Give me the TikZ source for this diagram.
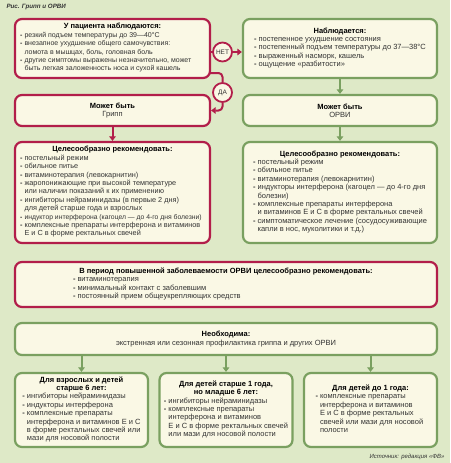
\documentclass[tikz,border=0pt]{standalone}
\usepackage{fontspec}
\setmainfont{Liberation Sans}
\usetikzlibrary{positioning,arrows.meta}
\definecolor{meadow}{RGB}{222,233,199}
\definecolor{cream}{RGB}{250,248,229}
\definecolor{crimson}{RGB}{178,30,74}
\definecolor{leaf}{RGB}{122,160,96}
\colorlet{ink}{black!80}

\newcommand{\hd}[1]{{\fontsize{7.5}{8.4}\selectfont\bfseries\color{black}#1}}
\newcommand{\itm}{\makebox[4.5pt][l]{\textbf{-}}}
\newcommand{\cnt}{\hspace*{4.5pt}}
\newcommand{\blk}[1]{\begin{tabular}[t]{@{}l@{}}#1\end{tabular}}
\newcommand{\blkw}[2]{\begin{tabular}[t]{@{}p{#1}@{}}#2\end{tabular}}

\tikzset{
  panel/.style={rounded corners=7pt, line width=2.2pt, fill=cream, align=center,
    inner sep=0pt, text=ink, font=\fontsize{7.5}{8.4}\selectfont},
  narrow/.style={font=\fontsize{7}{8.4}\selectfont},
  redpanel/.style={panel, draw=crimson},
  greenpanel/.style={panel, draw=leaf},
  choice/.style={circle, draw=crimson, line width=1.8pt, fill=cream, minimum size=19pt,
    inner sep=0pt, text=ink, font=\fontsize{6.5}{7}\selectfont},
  redlink/.style={crimson, line width=2pt},
  redarrow/.style={redlink, -{Triangle[length=4.5pt,width=6.5pt]}},
  greenarrow/.style={leaf, line width=2pt, -{Triangle[length=4.5pt,width=6.5pt]}}
}

\begin{document}
\begin{tikzpicture}[x=1pt, y=-1pt]
\fill[meadow] (0,0) rectangle (450,463);
\useasboundingbox (0,0) rectangle (450,463);

\node[anchor=west, font=\fontsize{6.2}{7}\selectfont\bfseries\itshape, text=ink] (fig) at (3,7) {Рис. Грипп и ОРВИ};

% top row
\node[redpanel, narrow, minimum width=195pt, minimum height=59pt] (patient) at (112.5,48.5)
  {\hd{У пациента наблюдаются:}\\
   \blkw{185pt}{\itm резкий подъем температуры до 39—40°С\\
        \itm внезапное ухудшение общего самочувствия:\\
        \cnt ломота в мышцах, боль, головная боль\\
        \itm другие симптомы выражены незначительно, может\\
        \cnt быть легкая заложенность носа и сухой кашель}};
\node[greenpanel, minimum width=194pt, minimum height=59pt] (obs) at (340,48.5)
  {\hd{Наблюдается:}\\
   \blk{\itm постепенное ухудшение состояния\\
        \itm постепенный подъем температуры до 37—38°С\\
        \itm выраженный насморк, кашель\\
        \itm ощущение «разбитости»}};

\node[choice] (net) at (222.5,52) {НЕТ};
\node[choice] (da) at (222.5,92.5) {ДА};
\coordinate (daout) at (210,73);

\draw[redlink] (patient.east |- net) -- (net);
\draw[redarrow] (net) -- (obs.west |- net);
\draw[redlink, rounded corners=4pt] (daout) -| (da.north);

% second row
\node[redpanel, minimum width=195pt, minimum height=31pt] (gripp) at (112.5,110.5)
  {\hd{Может быть}\\ Грипп};
\node[greenpanel, minimum width=194pt, minimum height=31pt] (orvi) at (340,110.5)
  {\hd{Может быть}\\ ОРВИ};

\draw[redarrow, rounded corners=4pt] (da.south) |- (gripp.east);
\draw[greenarrow] (obs.south) -- (orvi.north);

% recommendations
\node[redpanel, font=\fontsize{7.3}{8.4}\selectfont, minimum width=195pt, minimum height=101pt] (redrec) at (112.5,192.5)
  {\hd{Целесообразно рекомендовать:}\\
   \blkw{185pt}{\itm постельный режим\\
        \itm обильное питье\\
        \itm витаминотерапия (левокарнитин)\\
        \itm жаропонижающие при высокой температуре\\
        \cnt или наличии показаний к их применению\\
        \itm ингибиторы нейраминидазы (в первые 2 дня)\\
        \cnt для детей старше года и взрослых\\
        {\fontsize{6.8}{8.4}\selectfont\itm индуктор интерферона (кагоцел — до 4-го дня болезни)}\\
        \itm комплексные препараты интерферона и витаминов\\
        \cnt Е и С в форме ректальных свечей}};
\node[greenpanel, minimum width=194pt, minimum height=101pt] (greenrec) at (340,192.5)
  {\hd{Целесообразно рекомендовать:}\\
   \blk{\itm постельный режим\\
        \itm обильное питье\\
        \itm витаминотерапия (левокарнитин)\\
        \itm индукторы интерферона (кагоцел — до 4-го дня\\
        \cnt болезни)\\
        \itm комплексные препараты интерферона\\
        \cnt и витаминов Е и С в форме ректальных свечей\\
        \itm симптоматическое лечение (сосудосуживающие\\
        \cnt капли в нос, муколитики и т.д.)}};

\draw[redarrow] (gripp.south) -- (redrec.north);
\draw[greenarrow] (orvi.south) -- (greenrec.north);

% wide panels
\node[redpanel, minimum width=422pt, minimum height=45pt] (period) at (226,284.5)
  {\hd{В период повышенной заболеваемости ОРВИ целесообразно рекомендовать:}\\
   \blkw{306pt}{\itm витаминотерапия\\
        \itm минимальный контакт с заболевшим\\
        \itm постоянный прием общеукрепляющих средств}};
\node[greenpanel, minimum width=422pt, minimum height=32pt] (need) at (226,339)
  {\hd{Необходима:}\\ экстренная или сезонная профилактика гриппа и других ОРВИ};

% bottom row
\node[greenpanel, minimum width=133pt, minimum height=74pt] (adult) at (81.5,410)
  {\hd{Для взрослых и детей}\\ \hd{старше 6 лет:}\\
   \blk{\itm ингибиторы нейраминидазы\\
        \itm индукторы интерферона\\
        \itm комплексные препараты\\
        \cnt интерферона и витаминов Е и С\\
        \cnt в форме ректальных свечей или\\
        \cnt мази для носовой полости}};
\node[greenpanel, minimum width=133pt, minimum height=74pt] (child) at (226,410)
  {\hd{Для детей старше 1 года,}\\ \hd{но младше 6 лет:}\\
   \blk{\itm ингибиторы нейраминидазы\\
        \itm комплексные препараты\\
        \cnt интерферона и витаминов\\
        \cnt Е и С в форме ректальных свечей\\
        \cnt или мази для носовой полости}};
\node[greenpanel, minimum width=133pt, minimum height=74pt] (infant) at (370.5,410)
  {\hd{Для детей до 1 года:}\\
   \blkw{110pt}{\itm комплексные препараты\\
        \cnt интерферона и витаминов\\
        \cnt Е и С в форме ректальных\\
        \cnt свечей или мази для носовой\\
        \cnt полости}};

\draw[greenarrow] (adult.north |- need.south) -- (adult.north);
\draw[greenarrow] (child.north |- need.south) -- (child.north);
\draw[greenarrow] (infant.north |- need.south) -- (infant.north);

\node[anchor=east, font=\fontsize{6}{7}\selectfont\itshape, text=ink] (src) at (448,457) {Источник: редакция «ФВ»};
\end{tikzpicture}
\end{document}
